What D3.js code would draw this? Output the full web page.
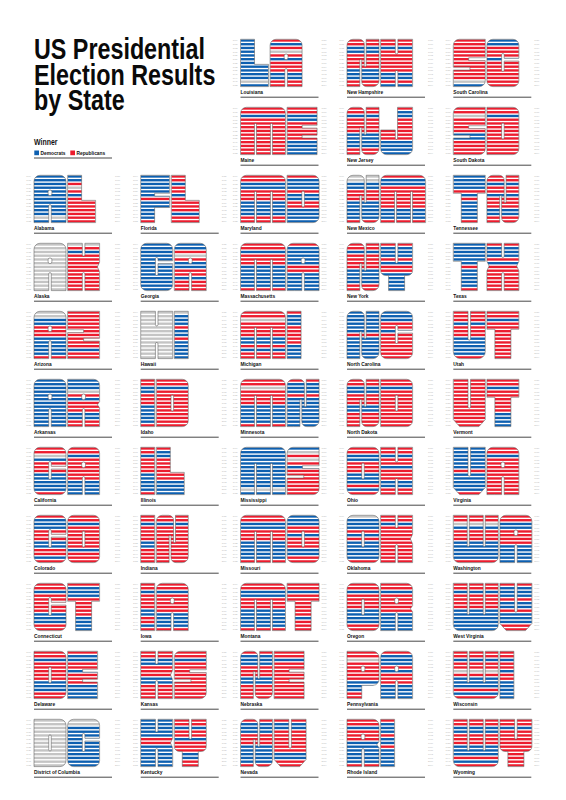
<!DOCTYPE html>
<html>
<head>
<meta charset="utf-8">
<script src="https://cdnjs.cloudflare.com/ajax/libs/d3/7.8.5/d3.min.js"></script>
<style>
  html, body { margin: 0; padding: 0; background: #fff; }
  text { font-family: "Liberation Sans", sans-serif; }
</style>
</head>
<body>
<svg id="chart" width="566" height="800"></svg>
<script>
// columns of the page, states listed top to bottom (alphabetical by name)
const columns = [
  ["AL","AK","AZ","AR","CA","CO","CT","DE","DC"],
  ["FL","GA","HI","ID","IL","IN","IA","KS","KY"],
  ["LA","ME","MD","MA","MI","MN","MS","MO","MT","NE","NV"],
  ["NH","NJ","NM","NY","NC","ND","OH","OK","OR","PA","RI"],
  ["SC","SD","TN","TX","UT","VT","VA","WA","WV","WI","WY"]
];
const stateNames = {
  AL:"Alabama",AK:"Alaska",AZ:"Arizona",AR:"Arkansas",CA:"California",CO:"Colorado",CT:"Connecticut",
  DE:"Delaware",DC:"District of Columbia",FL:"Florida",GA:"Georgia",HI:"Hawaii",ID:"Idaho",IL:"Illinois",
  IN:"Indiana",IA:"Iowa",KS:"Kansas",KY:"Kentucky",LA:"Louisiana",ME:"Maine",MD:"Maryland",MA:"Massachusetts",
  MI:"Michigan",MN:"Minnesota",MS:"Mississippi",MO:"Missouri",MT:"Montana",NE:"Nebraska",NV:"Nevada",
  NH:"New Hampshire",NJ:"New Jersey",NM:"New Mexico",NY:"New York",NC:"North Carolina",ND:"North Dakota",
  OH:"Ohio",OK:"Oklahoma",OR:"Oregon",PA:"Pennsylvania",RI:"Rhode Island",SC:"South Carolina",SD:"South Dakota",
  TN:"Tennessee",TX:"Texas",UT:"Utah",VT:"Vermont",VA:"Virginia",WA:"Washington",WV:"West Virginia",
  WI:"Wisconsin",WY:"Wyoming"
};

const years = [1904,1908,1912,1916,1920,1924,1928,1932,1936,1940,1944,1948,1952,
               1956,1960,1964,1968,1972,1976,1980,1984,1988,1992,1996,2000,2004];

// states won by the Democrats, one string per election; everything not listed is Republican
const demWins = [
  "AL AR FL GA KY LA MS NC TN TX VA",
  "AL AR CO FL GA KY LA MS NE NV NC OK TN TX VA",
  "AL AZ AR CO CT DE FL GA ID IL IN IA KS KY LA ME MD MA MS MO MT NE NV NH NJ NM NY NC ND OH OK OR RI TN TX VA WV WI WY",
  "AL AZ AR CA CO FL GA ID KS KY LA MD MS MO MT NE NV NH NM NC ND OH OK TN TX UT VA WA WY",
  "AL AR FL GA KY LA MS NC TX VA",
  "AL AR FL GA LA MS NC OK TN TX VA",
  "AL AR GA LA MA MS RI",
  "AL AZ AR CA CO FL GA ID IL IN IA KS KY LA MD MA MI MN MS MO MT NE NV NJ NM NY NC ND OH OK OR RI SD TN TX UT VA WA WV WI WY",
  "AL AZ AR CA CO CT DE FL GA ID IL IN IA KS KY LA MD MA MI MN MS MO MT NE NV NH NJ NM NY NC ND OH OK OR PA RI SD TN TX UT VA WA WV WI WY",
  "AL AZ AR CA CT DE FL GA ID IL KY LA MD MA MN MS MO MT NV NH NJ NM NY NC OH OK OR PA RI TN TX UT VA WA WV WI WY",
  "AL AZ AR CA CT DE FL GA ID IL KY LA MD MA MI MN MS MO MT NV NH NJ NM NY NC OK OR PA RI TN TX UT VA WA WV",
  "AZ AR CA CO FL GA ID IL IA KY MA MN MO MT NV NM NC OH OK RI TN TX UT VA WA WV WI WY",
  "AL AR GA KY LA MS NC SC WV",
  "AL AR GA MS MO NC SC",
  "AL AR CT DE GA HI IL LA MD MA MI MN MO NV NJ NM NY NC PA RI SC TX WV",
  "AK AR CA CO CT DE DC FL HI ID IL IN IA KS KY ME MD MA MI MN MO MT NE NV NH NJ NM NY NC ND OH OK OR PA RI SD TN TX UT VT VA WA WV WI WY",
  "CT DC HI ME MD MA MI MN NY PA RI TX WA WV",
  "DC MA",
  "AL AR DE DC FL GA HI KY LA MD MA MN MS MO NY NC OH PA RI SC TN TX WV WI",
  "DC GA HI MD MN RI WV",
  "DC MN",
  "DC HI IA MA MN NY OR RI WA WV WI",
  "AR CA CO CT DE DC GA HI IL IA KY LA ME MD MA MI MN MO MT NV NH NJ NM NY OH OR PA RI TN VT WA WV WI",
  "AZ AR CA CT DE DC FL HI IL IA KY LA ME MD MA MI MN MO NV NH NJ NM NY OH OR PA RI TN VT WA WV WI",
  "CA CT DE DC HI IL IA ME MD MA MI MN NJ NM NY OR PA RI VT WA WI",
  "CA CT DE DC HI IL ME MD MA MI MN NH NJ NY OR PA RI VT WA WI"
];
// grey rows: no vote yet, or a third party took the state
const otherWins = [
  "AK HI DC AZ NM OK",
  "AK HI DC AZ NM",
  "AK HI DC CA MI MN PA SD WA",
  "AK HI DC",
  "AK HI DC",
  "AK HI DC WI",
  "AK HI DC",
  "AK HI DC",
  "AK HI DC",
  "AK HI DC",
  "AK HI DC",
  "AK HI DC AL LA MS SC",
  "AK HI DC",
  "AK HI DC",
  "DC MS",
  "",
  "AL AR GA LA MS",
  "", "", "", "", "", "", "", "", ""
];

const partyColor = { D: "#0d5fb0", R: "#ec1c2e", O: "#c4c4c4" };
const legendItems = [["Democrats", partyColor.D], ["Republicans", partyColor.R]];

const letterH = 47.3;
const colX = [34, 140.7, 240.5, 347, 453.3];
const rowTop = i => 39.3 + 68 * i;
const cellW = 78;
const gap = 1.6;

const svg = d3.select("#chart");

function winner(st, i) {
  if (otherWins[i].split(" ").includes(st)) return "O";
  return demWins[i].split(" ").includes(st) ? "D" : "R";
}

const bigR = 6;
// letter outlines as [x, y, radius], x and y as share of the letter box
const holeC = [[.44,.31,1.9],[.56,.31,1.9],[.56,.43,1.9],[.44,.43,1.9]];
const holeS = [[.46,.33,1.3],[.54,.33,1.3],[.54,.67,1.3],[.46,.67,1.3]];
const glyphs = {
  A: [[[0,1],[0,0,bigR],[1,0,bigR],[1,1],[.54,1],[.54,.62,1.3],[.46,.62,1.3],[.46,1]], holeC],
  C: [[[0,0,bigR],[1,0,bigR],[1,.4],[.54,.4],[.54,.3,1.3],[.46,.3,1.3],[.46,.68,1.3],[.54,.68,1.3],[.54,.46],[1,.46],[1,1,bigR],[0,1,bigR]]],
  D: [[[0,0],[1,0,bigR],[1,1,bigR],[0,1]], holeS],
  E: [[[0,0],[1,0],[1,.38],[.5,.38],[.5,.44],[1,.44],[1,.59],[.5,.59],[.5,.65],[1,.65],[1,1],[0,1]]],
  F: [[[0,0],[1,0],[1,.38],[.48,.38],[.48,.44],[1,.44],[1,.68],[.48,.68],[.48,1],[0,1]]],
  G: [[[0,0,bigR],[1,0,bigR],[1,.37],[.54,.37],[.54,.3,1.3],[.46,.3,1.3],[.46,.68,1.3],[.54,.68,1.3],[.54,.43],[1,.43],[1,1,bigR],[0,1,bigR]]],
  H: [[[0,0],[.46,0],[.46,.31,1.3],[.54,.31,1.3],[.54,0],[1,0],[1,1],[.54,1],[.54,.66,1.3],[.46,.66,1.3],[.46,1],[0,1]]],
  I: [[[0,0],[1,0],[1,1],[0,1]]],
  J: [[[.53,0],[1,0],[1,1,bigR],[0,1,bigR],[0,.48],[.46,.48],[.46,.68,1.2],[.53,.68,1.2]]],
  K: [[[0,0],[.46,0],[.46,.27,1.3],[.54,.27,1.3],[.54,0],[1,0],[1,.4],[.93,.5],[1,.6],[1,1],[.54,1],[.54,.62,1.3],[.46,.62,1.3],[.46,1],[0,1]]],
  L: [[[0,0],[.5,0],[.5,.53],[1,.53],[1,1],[0,1]]],
  M: [[[0,1],[0,0,bigR],[1,0,bigR],[1,1],[.71,1],[.71,.34,1],[.665,.34,1],[.665,1],[.355,1],[.355,.34,1],[.31,.34,1],[.31,1]]],
  N: [[[0,1],[0,0,bigR],[.54,0,5],[.54,.58,1],[.6,.58,1],[.6,0],[1,0],[1,1,bigR],[.46,1,5],[.46,.42,1],[.4,.42,1],[.4,1]]],
  O: [[[0,0,bigR],[1,0,bigR],[1,1,bigR],[0,1,bigR]], holeS],
  P: [[[0,0],[1,0,bigR],[1,.72,bigR],[.46,.72],[.46,1],[0,1]], holeC],
  R: [[[0,0],[1,0,bigR],[1,.47],[.93,.54],[1,.6],[1,1],[.54,1],[.54,.62,1.3],[.46,.62,1.3],[.46,1],[0,1]], holeC],
  S: [[[0,0,bigR],[1,0],[1,.39],[.48,.39],[.48,.45],[1,.45],[1,1,bigR],[0,1],[0,.65],[.52,.65],[.52,.59],[0,.59]]],
  T: [[[0,0],[1,0],[1,.38],[.75,.38],[.75,1],[.25,1],[.25,.38],[0,.38]]],
  U: [[[0,0],[.46,0],[.46,.61,1.3],[.54,.61,1.3],[.54,0],[1,0],[1,1,7],[0,1,7]]],
  V: [[[0,0],[.46,0],[.46,.61,1.3],[.54,.61,1.3],[.54,0],[1,0],[1,.85],[.8,1],[.2,1],[0,.85]]],
  W: [[[0,0],[.31,0],[.31,.66,1],[.355,.66,1],[.355,0],[.665,0],[.665,.66,1],[.71,.66,1],[.71,0],[1,0],[1,1,bigR],[0,1,bigR]]],
  X: [[[0,0],[.46,0],[.46,.3,1.3],[.54,.3,1.3],[.54,0],[1,0],[1,.38],[.93,.48],[1,.58],[1,1],[.54,1],[.54,.62,1.3],[.46,.62,1.3],[.46,1],[0,1],[0,.58],[.07,.48],[0,.38]]],
  Y: [[[0,0],[.46,0],[.46,.42,1.3],[.54,.42,1.3],[.54,0],[1,0],[1,.68,5],[.75,.68],[.75,1],[.25,1],[.25,.68],[0,.68,5]]],
  Z: [[[0,0],[1,0],[1,.57],[.5,.57],[.5,.63],[1,.63],[1,1],[0,1],[0,.45],[.5,.45],[.5,.39],[0,.39]]]
};
const letterW = { M: 45, W: 45, I: 14, L: 28, F: 29, E: 30 };
const widthOf = c => letterW[c] || 32;

function glyphPath(c) {
  const w = widthOf(c), p = d3.path();
  glyphs[c].forEach(ring => {
    const pts = ring.map(d => [d[0] * w, d[1] * letterH, d[2] || 0]);
    const n = pts.length;
    // start half way along the last edge so the first corner can be rounded too
    p.moveTo((pts[n-1][0] + pts[0][0]) / 2, (pts[n-1][1] + pts[0][1]) / 2);
    pts.forEach((a, i) => {
      const b = pts[(i + 1) % n];
      if (a[2]) p.arcTo(a[0], a[1], (a[0] + b[0]) / 2, (a[1] + b[1]) / 2, a[2]);
      else p.lineTo(a[0], a[1]);
    });
    p.closePath();
  });
  return p.toString();
}

const y = d3.scaleBand().domain(d3.range(13)).range([0, letterH]).paddingInner(0.37);
const defs = svg.append("defs");

// no condensed face installed, so squeeze the bold sans sideways
function squeezed(sel, x, yPos, k) {
  return sel.attr("transform", (d, i) => `translate(${x},${typeof yPos === "function" ? yPos(d, i) : yPos}) scale(${k},1)`);
}

function drawLetter(g, st, c, x0, idx0) {
  const id = "clip-" + st + c;
  const d = glyphPath(c);
  defs.append("clipPath").attr("id", id).append("path").attr("d", d).attr("clip-rule", "evenodd");
  const l = g.append("g").attr("transform", `translate(${x0},0)`);
  l.append("g").attr("clip-path", `url(#${id})`)
    .selectAll("rect")
    .data(d3.range(13))
    .join("rect")
    .attr("x", 0)
    .attr("width", widthOf(c))
    .attr("y", i => y(i))
    .attr("height", y.bandwidth())
    .attr("fill", i => partyColor[winner(st, idx0 + i)]);
  l.append("path").attr("d", d).attr("fill", "none").attr("fill-rule", "evenodd")
    .attr("stroke", "#5a5a5a").attr("stroke-width", 0.55);
}

function drawYears(g, x, first) {
  g.selectAll(null)
    .data(years.slice(first, first + 13))
    .join("text")
    .attr("x", x)
    .attr("y", (d, i) => y(i) + 2)
    .attr("font-size", 2.2)
    .attr("fill", "#b4b4b4")
    .text(d => d);
}

columns.forEach((col, ci) => {
  const skip = 11 - col.length;
  col.forEach((st, ri) => {
    const g = svg.append("g")
      .attr("transform", `translate(${colX[ci]},${rowTop(ri + skip)})`);
    drawYears(g, -7.8, 0);
    drawYears(g, cellW + 3, 13);
    const a = st[0], b = st[1];
    drawLetter(g, st, a, 0, 0);
    drawLetter(g, st, b, widthOf(a) + gap, 13);
    g.append("text")
      .call(squeezed, 0, letterH + 7.2, 0.85)
      .attr("font-size", 5.7).attr("font-weight", "bold").attr("fill", "#111")
      .text(stateNames[st]);
    g.append("line")
      .attr("x1", 0).attr("x2", cellW)
      .attr("y1", letterH + 10.6).attr("y2", letterH + 10.6)
      .attr("stroke", "#333").attr("stroke-width", 0.9);
  });
});

// title
const titleLines = ["US Presidential", "Election Results", "by State"];
svg.selectAll(".title")
  .data(titleLines)
  .join("text")
  .attr("class", "title")
  .call(squeezed, 34, (d, i) => 59.3 + i * 25.5, 0.81)
  .attr("font-size", 28.8)
  .attr("font-weight", "bold")
  .attr("fill", "#0a0a0a")
  .text(d => d);

// legend
svg.append("text").call(squeezed, 34, 144.5, 0.82)
  .attr("font-size", 8.5).attr("font-weight", "bold").attr("fill", "#111").text("Winner");
const legendX = d3.scalePoint().domain(legendItems.map(d => d[0])).range([34.3, 70.3]);
const lg = svg.selectAll(".lg").data(legendItems).join("g").attr("class", "lg")
  .attr("transform", d => `translate(${legendX(d[0])},150.5)`);
lg.append("rect").attr("width", 4.7).attr("height", 4.7).attr("fill", d => d[1]);
lg.append("text").call(squeezed, 6.2, 4.4, 0.85)
  .attr("font-size", 5.7).attr("font-weight", "bold").attr("fill", "#111").text(d => d[0]);
svg.append("line").attr("x1", 34).attr("x2", 112).attr("y1", 158).attr("y2", 158)
  .attr("stroke", "#333").attr("stroke-width", 0.9);
</script>
</body>
</html>
